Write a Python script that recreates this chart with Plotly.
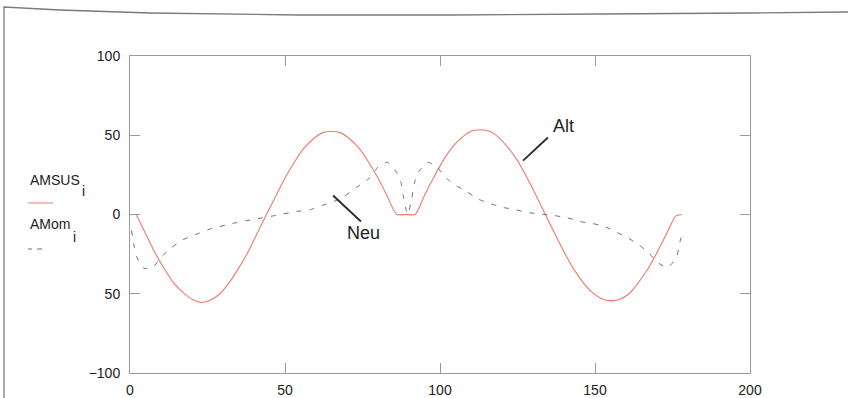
import plotly.graph_objects as go

# ---- data ----
alt_x = [2, 5, 8, 11, 14, 17, 20, 23, 26, 29, 32, 35, 38, 41, 44,
         47, 50, 53, 56, 59, 62, 65, 68, 71, 74, 77, 80, 83, 86,
         89, 92,
         95, 98, 101, 104, 107, 110, 113, 116, 119, 122, 125, 128, 131, 134,
         137, 140, 143, 146, 149, 152, 155, 158, 161, 164, 167, 170, 173, 176, 178]
alt_y = [0, -12, -24, -34, -43, -49, -53.5, -55.5, -54, -50, -43, -34, -24, -12, 0,
         11.5, 23, 33, 41.5, 47.5, 51.5, 52.5, 51.5, 47.5, 41.5, 33, 23, 11.5, 0,
         0, 0,
         12, 23.5, 34, 42.5, 48.5, 52.5, 53.5, 52.5, 48.5, 42, 34, 23.5, 12, 0,
         -12, -23.5, -34, -42.5, -49, -53, -54.5, -53.5, -50, -43, -34.5, -24, -12.5, -1, 0]

neu_x = [0.5, 2, 4.5, 7.5, 10, 13, 17, 22, 26, 33, 40, 47, 54, 58, 62, 68, 73, 77.5, 80, 83,
         86, 87.5, 88.3, 89.1, 89.6, 90.1, 90.9, 91.7, 93, 96,
         99, 102, 105, 109, 112, 116, 120.5, 124.5, 128, 136.5,
         141, 145, 149, 152.5, 156.5, 160.5, 164, 167.3, 170, 173.4, 176.3, 177.3, 178.5]
neu_y = [-10, -26, -34, -33, -27, -21.5, -16, -12, -9, -5.7, -3, -0.6, 2, 3, 5.7, 10, 17, 23.4, 30, 33,
         26.6, 19.6, 10, 3, 0, 3, 10, 19.6, 26.6, 33,
         30, 23, 18.4, 14, 10, 7, 4.4, 3, 1.3, -0.6,
         -2, -4.4, -5.7, -7, -10.7, -14.6, -19, -24, -30, -33.5, -27, -18, -10]

x_ticks = [0, 50, 100, 150, 200]
x_tick_text = ["0", "50", "100", "150", "200"]
y_ticks = [-100, -50, 0, 50, 100]
y_tick_text = ["\u2212100", "50", "0", "50", "100"]

# ---- layout geometry ----
W, H = 848, 398
ML, MR, MT, MB = 130, 98, 56, 25
PW, PH = W - ML - MR, H - MT - MB


def px_x(px):
    return (px - ML) / PW


def px_y(py):
    return 1 - (py - MT) / PH


FONT = "Liberation Sans, Arial, sans-serif"
RED = "#f07a6c"
DASH = "#6a6a90"
AXC = "#9a9a9a"

fig = go.Figure()
fig.add_trace(go.Scatter(x=alt_x, y=alt_y, mode="lines", name="AMSUS",
                         line=dict(color=RED, width=1.1, shape="spline", smoothing=0.6)))
fig.add_trace(go.Scatter(x=neu_x, y=neu_y, mode="lines", name="AMom",
                         line=dict(color=DASH, width=1.0, dash="5px,8px", shape="spline", smoothing=0.5)))

axis_common = dict(showgrid=False, zeroline=False, showline=True, linecolor=AXC, linewidth=1,
                   mirror="ticks", ticks="inside", ticklen=10, tickcolor=AXC, tickwidth=1,
                   automargin=False,
                   tickfont=dict(family=FONT, size=14, color="#222"))
fig.update_xaxes(range=[0, 200], tickvals=x_ticks, ticktext=x_tick_text,
                 ticklabelstandoff=4, **axis_common)
fig.update_yaxes(range=[-100, 100], tickvals=y_ticks, ticktext=y_tick_text,
                 ticklabelstandoff=6, **axis_common)

shapes = []
# pointer lines for the labels
shapes.append(dict(type="line", xref="x", yref="y", x0=126.8, y0=34, x1=134.8, y1=48.6,
                   line=dict(color="#2a2a2a", width=1.8)))
shapes.append(dict(type="line", xref="x", yref="y", x0=65.5, y0=12, x1=74.5, y1=-4.4,
                   line=dict(color="#2a2a2a", width=1.8)))
# legend line samples
shapes.append(dict(type="line", xref="paper", yref="paper", x0=px_x(28), y0=px_y(203),
                   x1=px_x(53), y1=px_y(203), line=dict(color=RED, width=1)))
shapes.append(dict(type="line", xref="paper", yref="paper", x0=px_x(28), y0=px_y(249),
                   x1=px_x(32), y1=px_y(249), line=dict(color=DASH, width=1)))
shapes.append(dict(type="line", xref="paper", yref="paper", x0=px_x(37), y0=px_y(249),
                   x1=px_x(42), y1=px_y(249), line=dict(color=DASH, width=1)))
# page frame (scanned edge)
frame_pts = [(4, 398), (4, 7), (60, 10), (150, 13), (300, 15), (450, 15), (600, 14), (750, 13), (848, 12)]
path = "M " + " L ".join(f"{px_x(a):.5f},{px_y(b):.5f}" for a, b in frame_pts)
shapes.append(dict(type="path", xref="paper", yref="paper", path=path,
                   line=dict(color="#7a7a7a", width=1.3)))

annotations = [
    dict(x=139.7, y=56, xref="x", yref="y", text="Alt", showarrow=False,
         font=dict(family=FONT, size=18, color="#222")),
    dict(x=75.2, y=-11.4, xref="x", yref="y", text="Neu", showarrow=False,
         font=dict(family=FONT, size=18, color="#222")),
    dict(x=px_x(28), y=px_y(180), xref="paper", yref="paper", text="AMSUS", showarrow=False,
         xanchor="left", yanchor="middle", font=dict(family=FONT, size=14, color="#222")),
    dict(x=px_x(80), y=px_y(191), xref="paper", yref="paper", text="i", showarrow=False,
         xanchor="left", yanchor="middle", font=dict(family=FONT, size=14, color="#222")),
    dict(x=px_x(28), y=px_y(224), xref="paper", yref="paper", text="AMom", showarrow=False,
         xanchor="left", yanchor="middle", font=dict(family=FONT, size=14, color="#222")),
    dict(x=px_x(71), y=px_y(237), xref="paper", yref="paper", text="i", showarrow=False,
         xanchor="left", yanchor="middle", font=dict(family=FONT, size=14, color="#222")),
]

fig.update_layout(width=W, height=H, margin=dict(l=ML, r=MR, t=MT, b=MB),
                  paper_bgcolor="white", plot_bgcolor="white", showlegend=False,
                  shapes=shapes, annotations=annotations)

fig.write_html("out.html", config={"displayModeBar": False},
               post_script="document.body.style.margin='0';")
